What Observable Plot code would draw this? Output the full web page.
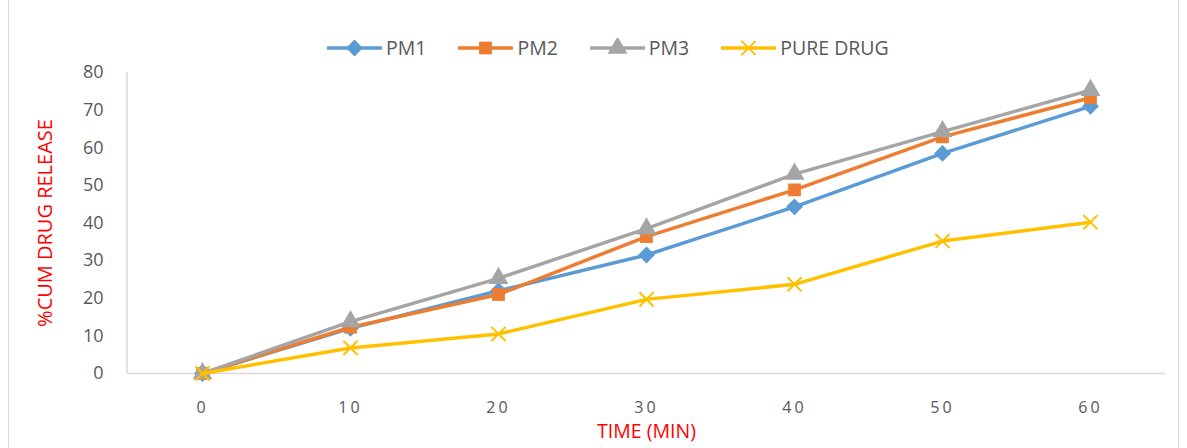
<!DOCTYPE html>
<html>
<head>
<meta charset="utf-8">
<script src="https://cdn.jsdelivr.net/npm/d3@7"></script>
<script src="https://cdn.jsdelivr.net/npm/@observablehq/plot@0.6"></script>
<style>
  html, body { margin: 0; padding: 0; background: #fff; }
  #wrap { position: relative; width: 1187px; height: 448px; overflow: hidden; font-family: "Open Sans", sans-serif; }
  #border { position: absolute; left: 8px; top: -2px; width: 1171px; height: 460px; border: 1px solid #d9d9d9; box-sizing: border-box; }
  #legend { position: absolute; top: 34px; left: 327px; display: flex; align-items: center; font-size: 19.5px; color: #595959; white-space: nowrap; }
  .item { display: flex; align-items: center; margin-right: 32px; }
  .item span { margin-left: 4px; }
  #chart { position: absolute; left: 0; top: 0; }
  #chart svg text { font-family: "Open Sans", sans-serif; }
</style>
</head>
<body>
<div id="wrap">
  <div id="border"></div>
  <div id="chart"></div>
  <div id="legend"></div>
</div>
<script>
const times = ["0", "10", "20", "30", "40", "50", "60"];
const seriesNames = ["PM1", "PM2", "PM3", "PURE DRUG"];
const pm1 = [0, 12.0, 22.0, 31.5, 44.3, 58.5, 71.0];
const pm2 = [0, 12.3, 21.0, 36.4, 48.8, 62.9, 73.3];
const pm3 = [0, 13.8, 25.3, 38.5, 53.0, 64.3, 75.3];
const pure = [0, 6.8, 10.5, 19.7, 23.7, 35.2, 40.2];
const yTicks = [0, 10, 20, 30, 40, 50, 60, 70, 80];
const colors = ["#5B9BD5", "#ED7D31", "#A5A5A5", "#FFC000"];
const symbols = ["diamond2", "square", "triangle", "times"];
const yLabel = "%CUM DRUG RELEASE";
const xLabel = "TIME (MIN)";

const allValues = [pm1, pm2, pm3, pure];
const rows = [];
seriesNames.forEach((s, i) => {
  times.forEach((t, j) => rows.push({series: s, time: t, value: allValues[i][j]}));
});

const marks = [
  Plot.ruleY([0], {stroke: "#d9d9d9", strokeWidth: 1.5}),
  Plot.axisY({ticks: yTicks, tickSize: 0, tickPadding: 24, fontSize: 18, color: "#595959", label: null}),
  Plot.axisX({tickSize: 0, tickPadding: 28, fontSize: 16, color: "#595959", label: null}),
  Plot.text([yLabel], {text: d => d, frameAnchor: "left", textAnchor: "middle", dx: -82, rotate: -90, fill: "#ff0000", fontSize: 20}),
  Plot.text([xLabel], {text: d => d, frameAnchor: "bottom", textAnchor: "middle", dy: 64, fill: "#ff0000", fontSize: 19.5})
];
const markerR = [7.6, 7.2, 7.4, 6.5];
seriesNames.forEach((s, i) => {
  const data = rows.filter(r => r.series === s);
  marks.push(Plot.line(data, {x: "time", y: "value", stroke: colors[i], strokeWidth: 3.5}));
  if (symbols[i] === "times") {
    marks.push(Plot.dot(data, {x: "time", y: "value", symbol: "times", stroke: colors[i], strokeWidth: 2, r: markerR[i]}));
  } else {
    marks.push(Plot.dot(data, {x: "time", y: "value", symbol: symbols[i], fill: colors[i], stroke: "none", r: markerR[i]}));
  }
});

const chart = Plot.plot({
  width: 1187,
  height: 448,
  marginTop: 72,
  marginBottom: 75,
  marginLeft: 127,
  marginRight: 22,
  x: {type: "point", domain: times, padding: 0.5},
  y: {domain: [0, 80]},
  marks
});
// y-axis line
const svg = d3.select(chart);
svg.append("line").attr("x1", 127).attr("x2", 127).attr("y1", 72).attr("y2", 373)
  .attr("stroke", "#d9d9d9").attr("stroke-width", 1.5);
svg.selectAll('[aria-label="x-axis tick label"] text').attr("letter-spacing", "3px");
document.getElementById("chart").appendChild(chart);

// legend
const legend = document.getElementById("legend");
const symMap = {diamond2: d3.symbolDiamond2, square: d3.symbolSquare, triangle: d3.symbolTriangle, times: d3.symbolTimes};
seriesNames.forEach((s, i) => {
  const item = document.createElement("div");
  item.className = "item";
  const sw = d3.create("svg").attr("width", 55).attr("height", 20);
  sw.append("line").attr("x1", 1).attr("x2", 54).attr("y1", 10).attr("y2", 10)
    .attr("stroke", colors[i]).attr("stroke-width", 3.5).attr("stroke-linecap", "round");
  const p = sw.append("path").attr("transform", "translate(27.5,10)")
    .attr("d", d3.symbol(symMap[symbols[i]], Math.PI * markerR[i] * markerR[i])());
  if (symbols[i] === "times") p.attr("fill", "none").attr("stroke", colors[i]).attr("stroke-width", 2);
  else p.attr("fill", colors[i]);
  item.appendChild(sw.node());
  const lab = document.createElement("span");
  lab.textContent = s;
  item.appendChild(lab);
  legend.appendChild(item);
});
</script>
</body>
</html>
